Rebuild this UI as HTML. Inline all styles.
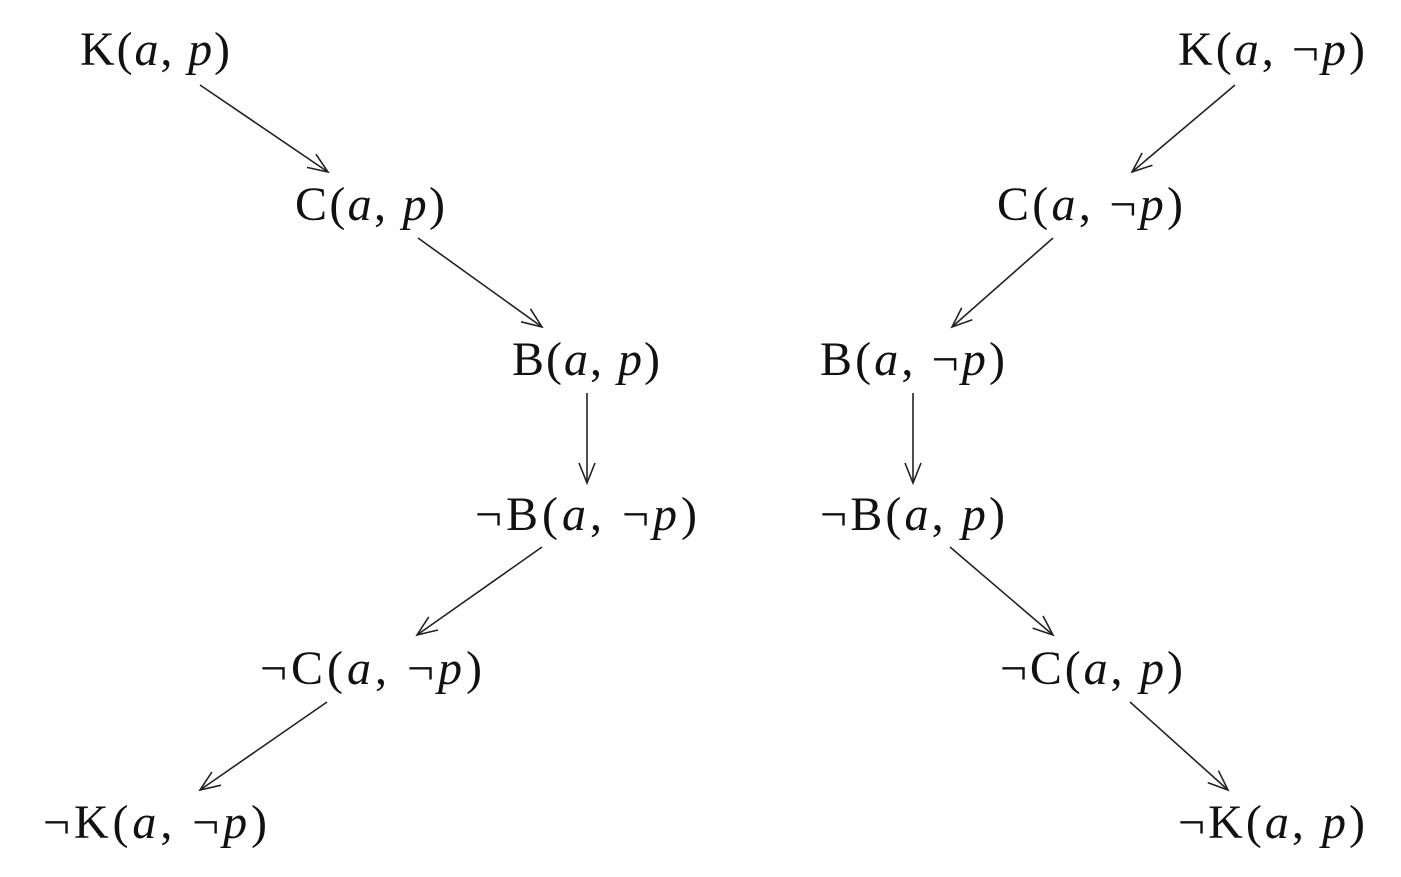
<!DOCTYPE html>
<html><head><meta charset="utf-8"><style>
html,body{margin:0;padding:0;background:#fff;}
svg{display:block;}
svg text{font-family:"Liberation Serif","Times New Roman",Times,serif;font-size:48px;fill:#111;}
tspan.i{font-style:italic;}
</style></head><body>
<svg width="1401" height="877" viewBox="0 0 1401 877">
<defs>
<marker id="a" markerWidth="24" markerHeight="20" refX="22" refY="10" orient="auto" markerUnits="userSpaceOnUse">
<path d="M2,2 L22,10 L2,18" fill="none" stroke="#222" stroke-width="1.6"/>
</marker>
</defs>
<g font-family="Liberation Serif, Times New Roman, Times, serif" font-size="48">
<text x="80" y="65" textLength="150" lengthAdjust="spacing">K(<tspan class="i">a</tspan>, <tspan class="i">p</tspan>)</text>
<text x="295" y="220" textLength="150" lengthAdjust="spacing">C(<tspan class="i">a</tspan>, <tspan class="i">p</tspan>)</text>
<text x="512" y="375" textLength="148" lengthAdjust="spacing">B(<tspan class="i">a</tspan>, <tspan class="i">p</tspan>)</text>
<text x="475" y="530" textLength="222" lengthAdjust="spacing">¬B(<tspan class="i">a</tspan>, ¬<tspan class="i">p</tspan>)</text>
<text x="260" y="684" textLength="222" lengthAdjust="spacing">¬C(<tspan class="i">a</tspan>, ¬<tspan class="i">p</tspan>)</text>
<text x="43" y="838" textLength="224" lengthAdjust="spacing">¬K(<tspan class="i">a</tspan>, ¬<tspan class="i">p</tspan>)</text>

<text x="1178" y="65" textLength="187" lengthAdjust="spacing">K(<tspan class="i">a</tspan>, ¬<tspan class="i">p</tspan>)</text>
<text x="997" y="220" textLength="186" lengthAdjust="spacing">C(<tspan class="i">a</tspan>, ¬<tspan class="i">p</tspan>)</text>
<text x="820" y="375" textLength="185" lengthAdjust="spacing">B(<tspan class="i">a</tspan>, ¬<tspan class="i">p</tspan>)</text>
<text x="820" y="530" textLength="185" lengthAdjust="spacing">¬B(<tspan class="i">a</tspan>, <tspan class="i">p</tspan>)</text>
<text x="1000" y="684" textLength="183" lengthAdjust="spacing">¬C(<tspan class="i">a</tspan>, <tspan class="i">p</tspan>)</text>
<text x="1178" y="838" textLength="187" lengthAdjust="spacing">¬K(<tspan class="i">a</tspan>, <tspan class="i">p</tspan>)</text>
</g>
<g stroke="#222" stroke-width="1.6" fill="none" marker-end="url(#a)">
<line x1="200" y1="85" x2="328" y2="172"/>
<line x1="418" y1="238" x2="542" y2="327"/>
<line x1="587" y1="393" x2="587" y2="483"/>
<line x1="542" y1="547" x2="417" y2="635"/>
<line x1="327" y1="702" x2="200" y2="790"/>
<line x1="1235" y1="85" x2="1132" y2="172"/>
<line x1="1053" y1="238" x2="952" y2="327"/>
<line x1="913" y1="393" x2="913" y2="483"/>
<line x1="950" y1="547" x2="1053" y2="635"/>
<line x1="1130" y1="702" x2="1228" y2="790"/>
</g>
</svg>
</body></html>
